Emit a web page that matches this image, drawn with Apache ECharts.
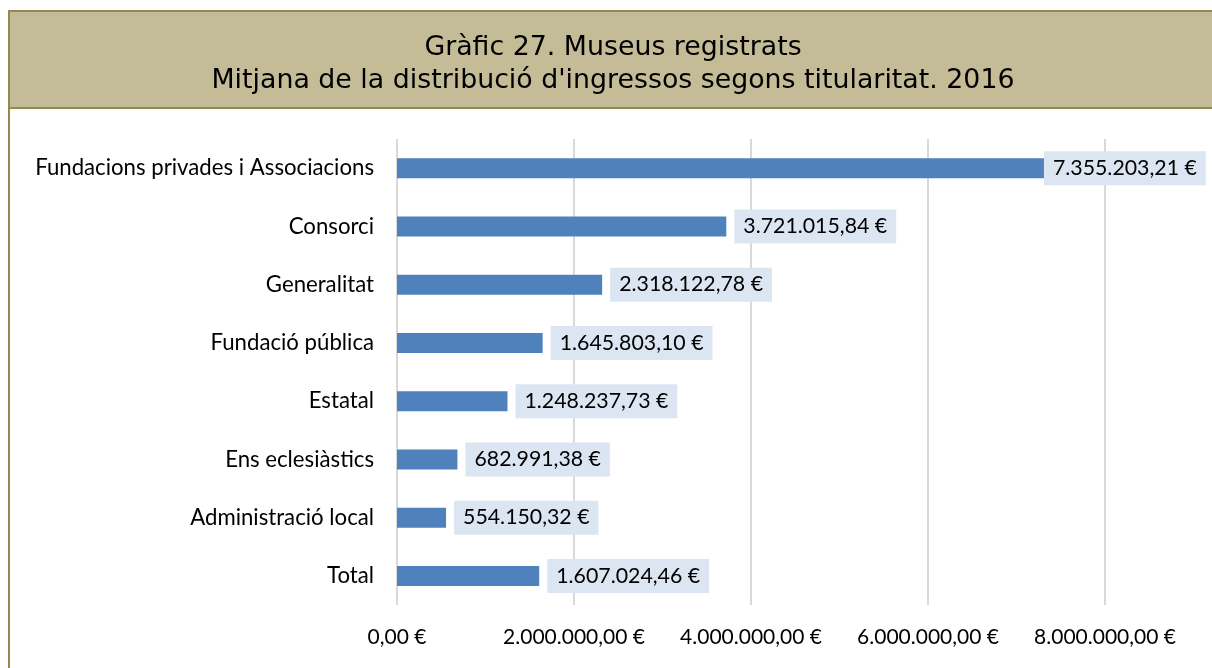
<!DOCTYPE html>
<html>
<head>
<meta charset="utf-8">
<script src="https://cdn.jsdelivr.net/npm/echarts@6/dist/echarts.min.js"></script>
<style>
  html, body { margin: 0; padding: 0; background: #fff; }
  #chart { width: 1212px; height: 668px; }
</style>
</head>
<body>
<div id="chart"></div>
<script>
// categories top to bottom
var categories = [
  'Fundacions privades i Associacions',
  'Consorci',
  'Generalitat',
  'Fundació pública',
  'Estatal',
  'Ens eclesiàstics',
  'Administració local',
  'Total'
];
var values = [7355203.21, 3721015.84, 2318122.78, 1645803.10, 1248237.73, 682991.38, 554150.32, 1607024.46];
var titleLines = ['Gràfic 27. Museus registrats', "Mitjana de la distribució d'ingressos segons titularitat. 2016"];

// 1234567.8 -> "1.234.567,80 €"
function euro(v) {
  var parts = v.toFixed(2).split('.');
  var ints = parts[0].replace(/\B(?=(\d{3})+(?!\d))/g, '.');
  return ints + ',' + parts[1] + ' €';
}

// the longest bar's label is pushed back inside the plot, like in the original
var barData = values.map(function (v, i) {
  if (i === 0) return { value: v, label: { distance: -4 } };
  return v;
});

var chart = echarts.init(document.getElementById('chart'));
var option = {
  animation: false,
  textStyle: { fontFamily: 'Lato' },
  graphic: [
    {
      type: 'rect',
      shape: { x: 9, y: 11, width: 1230, height: 97 },
      style: { fill: '#C4BC96', stroke: '#938953', lineWidth: 2 },
      z: 0
    },
    {
      type: 'line',
      shape: { x1: 9, y1: 108, x2: 9, y2: 700 },
      style: { stroke: '#938953', lineWidth: 2 },
      z: 0
    }
  ],
  title: {
    text: titleLines.join('\n'),
    left: 608,
    top: 27,
    textAlign: 'center',
    textStyle: {
      fontFamily: 'DejaVu Sans',
      fontWeight: 'normal',
      fontSize: 26.8,
      lineHeight: 33,
      color: '#000'
    }
  },
  grid: { left: 397, top: 139, width: 885, height: 466, outerBoundsMode: 'none' },
  xAxis: {
    type: 'value',
    min: 0,
    max: 10000000,
    interval: 2000000,
    axisLine: { show: false },
    axisTick: { show: false },
    splitLine: { lineStyle: { color: '#D9D9D9', width: 2 } },
    axisLabel: {
      margin: 22,
      fontSize: 21,
      color: '#000',
      showMaxLabel: false,
      formatter: function (v) { return euro(v); }
    }
  },
  yAxis: {
    type: 'category',
    data: categories,
    inverse: true,
    axisLine: { show: false },
    axisTick: { show: false },
    axisLabel: { margin: 23, fontSize: 22.2, color: '#000' }
  },
  series: [{
    type: 'bar',
    data: barData,
    barWidth: 20,
    itemStyle: { color: '#4F81BD' },
    label: {
      show: true,
      position: 'right',
      distance: 8,
      fontSize: 21.3,
      color: '#000',
      backgroundColor: '#DCE6F2',
      padding: [7, 9, 6, 9],
      formatter: function (p) { return euro(p.value); }
    }
  }]
};
chart.setOption(option);
</script>
</body>
</html>
